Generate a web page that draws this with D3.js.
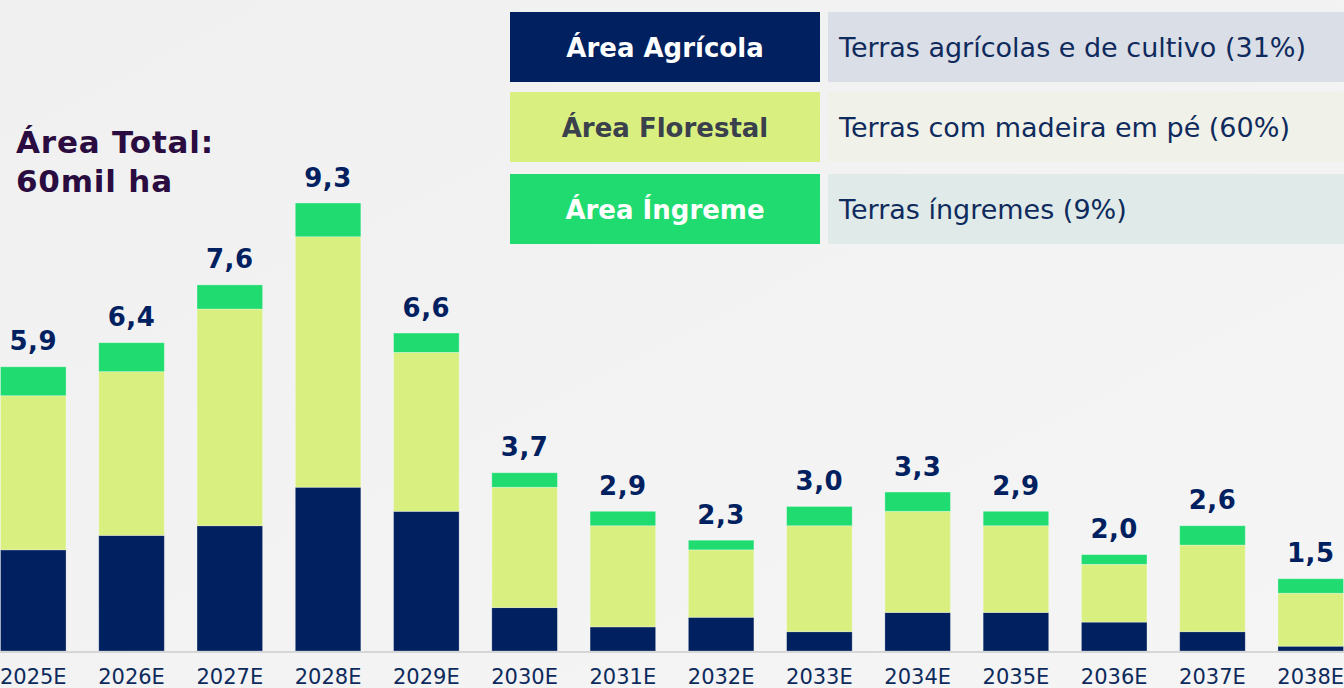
<!DOCTYPE html>
<html lang="pt">
<head>
<meta charset="utf-8">
<script src="https://cdn.jsdelivr.net/npm/d3@7"></script>
<style>
  html, body { margin: 0; padding: 0; background: #f2f2f2; }
  svg { display: block; }
</style>
</head>
<body>
<svg id="chart" width="1344" height="688"></svg>
<script>
// Harvest area schedule (mil ha) by year, split by land type
const years = ["2025E","2026E","2027E","2028E","2029E","2030E","2031E","2032E","2033E","2034E","2035E","2036E","2037E","2038E"];
const agricola  = [2.1, 2.4, 2.6, 3.4, 2.9, 0.9, 0.5, 0.7, 0.4, 0.8, 0.8, 0.6, 0.4, 0.1];
const florestal = [3.2, 3.4, 4.5, 5.2, 3.3, 2.5, 2.1, 1.4, 2.2, 2.1, 1.8, 1.2, 1.8, 1.1];
const ingreme   = [0.6, 0.6, 0.5, 0.7, 0.4, 0.3, 0.3, 0.2, 0.4, 0.4, 0.3, 0.2, 0.4, 0.3];
const totals    = [5.9, 6.4, 7.6, 9.3, 6.6, 3.7, 2.9, 2.3, 3.0, 3.3, 2.9, 2.0, 2.6, 1.5];

const seriesKeys   = ["agricola", "florestal", "ingreme"];
const legendLabels = ["Área Agrícola", "Área Florestal", "Área Íngreme"];
const legendTexts  = ["Terras agrícolas e de cultivo (31%)", "Terras com madeira em pé (60%)", "Terras íngremes (9%)"];
const titleLines   = ["Área Total:", "60mil ha"];

const colors     = { agricola: "#00205f", florestal: "#d9f080", ingreme: "#20dc70" };
const legendFill = ["#dadee6", "#f0f2e9", "#e0ebe9"];
const legendInk  = ["#ffffff", "#3a404c", "#ffffff"];

const W = 1344, H = 688;
const baseY = 651;
const FONT = "'DejaVu Sans', Verdana, sans-serif";

const svg = d3.select("#chart");

// soft background wash
const defs = svg.append("defs");
const bg = defs.append("linearGradient").attr("id", "bg")
  .attr("x1", "0").attr("y1", "0").attr("x2", "1").attr("y2", "1");
bg.append("stop").attr("offset", "0").attr("stop-color", "#f0f0f0");
bg.append("stop").attr("offset", "1").attr("stop-color", "#f5f5f5");
svg.append("rect").attr("width", W).attr("height", H).attr("fill", "url(#bg)");

const rows = years.map((y, i) => ({
  year: y, agricola: agricola[i], florestal: florestal[i], ingreme: ingreme[i], total: totals[i]
}));

const x = d3.scaleBand().domain(years).range([0.5, 1343.5]).paddingInner(0.333).paddingOuter(0);
const y = d3.scaleLinear().domain([0, 10]).range([baseY, baseY - 481.7]);

const stacked = d3.stack().keys(seriesKeys)(rows);

// stacked bars
svg.append("g").selectAll("g")
  .data(stacked).join("g")
    .attr("fill", d => colors[d.key])
  .selectAll("rect")
  .data(d => d).join("rect")
    .attr("x", d => x(d.data.year))
    .attr("width", x.bandwidth())
    .attr("y", d => y(d[1]))
    .attr("height", d => y(d[0]) - y(d[1]))
    .attr("stroke", "#ffffff").attr("stroke-opacity", 0.35).attr("stroke-width", 0.8);

// baseline
svg.append("line")
  .attr("x1", 0).attr("x2", W).attr("y1", baseY + 1).attr("y2", baseY + 1)
  .attr("stroke", "#d6d6d6").attr("stroke-width", 2);

// total value labels
svg.append("g").selectAll("text")
  .data(rows).join("text")
    .attr("x", d => x(d.year) + x.bandwidth() / 2)
    .attr("y", d => y(d.total) - 16.5)
    .attr("text-anchor", "middle")
    .attr("font-family", FONT).attr("font-weight", "bold").attr("font-size", 26)
    .attr("letter-spacing", 0.5)
    .attr("fill", "#002060")
    .text(d => d3.format(".1f")(d.total).replace(".", ","));

// x axis
const xAxis = svg.append("g")
  .attr("transform", `translate(0,${baseY})`)
  .call(d3.axisBottom(x).tickSize(0));
xAxis.select(".domain").remove();
xAxis.selectAll("text")
  .attr("y", 33).attr("dy", 0)
  .attr("font-family", FONT).attr("font-size", 21)
  .attr("fill", "#0d2a5c");

// title
svg.append("g").selectAll("text")
  .data(titleLines).join("text")
    .attr("x", 16)
    .attr("y", (d, i) => 153 + i * 39)
    .attr("font-family", FONT).attr("font-weight", "bold").attr("font-size", 31)
    .attr("letter-spacing", 0.8)
    .attr("fill", "#2a0c40")
    .text(d => d);

// legend table
const legendTop = [12, 92, 174];
const lg = svg.append("g").selectAll("g")
  .data(seriesKeys).join("g")
    .attr("transform", (d, i) => `translate(0,${legendTop[i]})`);

lg.append("rect")
  .attr("x", 510).attr("width", 310).attr("height", 70)
  .attr("fill", d => colors[d]);
lg.append("rect")
  .attr("x", 828).attr("width", W - 828).attr("height", 70)
  .attr("fill", (d, i) => legendFill[i]);
lg.append("text")
  .attr("x", 665).attr("y", 45)
  .attr("text-anchor", "middle")
  .attr("font-family", FONT).attr("font-weight", "bold").attr("font-size", 26)
  .attr("fill", (d, i) => legendInk[i])
  .text((d, i) => legendLabels[i]);
lg.append("text")
  .attr("x", 839).attr("y", 45)
  .attr("font-family", FONT).attr("font-size", 27)
  .attr("fill", "#0f2a5c")
  .text((d, i) => legendTexts[i]);
</script>
</body>
</html>
